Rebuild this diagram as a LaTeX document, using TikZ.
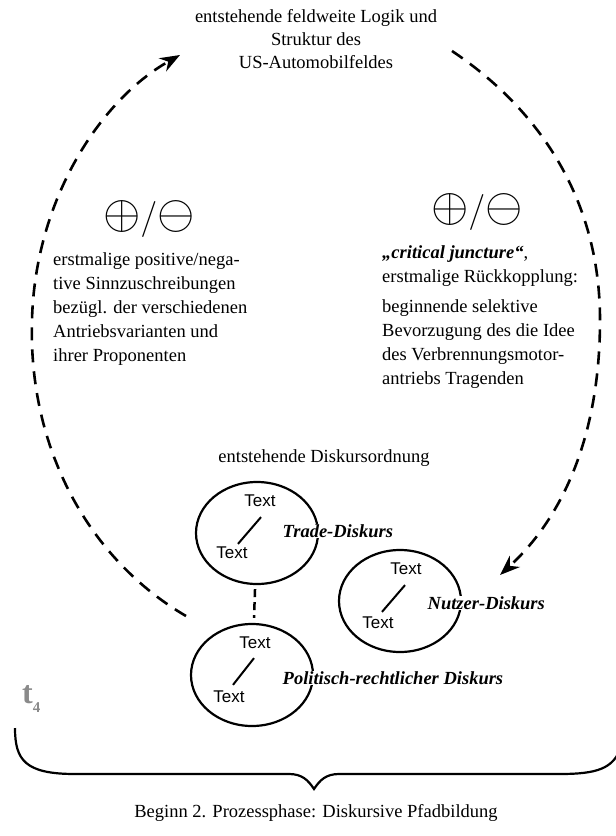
\RequirePackage{fix-cm}
\documentclass[tikz,border=0pt]{standalone}
\usepackage{fontspec}
\setmainfont{Liberation Serif}
\newfontfamily\labelsans{Liberation Sans}
\usetikzlibrary{arrows.meta,shapes.geometric}
\definecolor{tgray}{HTML}{8A8A8A}
\newcommand{\plusminus}{{\fontsize{48}{48}\selectfont$\oplus$}%
  {\fontsize{36}{36}\selectfont$/$}%
  {\fontsize{48}{48}\selectfont$\ominus$}}
\begin{document}
\begin{tikzpicture}[x=1pt,y=-1pt,
  body/.style={font=\fontsize{18.5}{24}\selectfont, inner sep=0pt},
  flow/.style={line width=2.6pt, dash pattern=on 13pt off 9pt,
    -{Stealth[length=20pt,width=15pt]}},
  disc/.style={ellipse, draw, line width=2.2pt, minimum width=122pt,
    minimum height=102pt, inner sep=0pt},
  txt/.style={font=\labelsans\fontsize{17}{17}\selectfont, inner sep=0pt},
  link/.style={line width=2pt},
  disclabel/.style={font=\fontsize{18.5}{22}\selectfont\bfseries\itshape,
    inner sep=0.5pt, anchor=west, fill=white},
  ops/.style={inner sep=0pt},
  braceline/.style={line width=2.2pt},
]
\useasboundingbox (0,0) rectangle (616,836);

% heading
\node[body, font=\fontsize{18.5}{23}\selectfont, align=center, anchor=north]
  (top) at (316,9) {entstehende feldweite Logik und\\Struktur des\\US-Automobilfeldes};

% left column
\node[ops] (opsL) at (149,219) {\plusminus};
\node[body, align=left, anchor=north west] (leftText) at (53,252)
  {erstmalige positive/nega-\\tive Sinnzuschreibungen\\bezügl. der verschiedenen\\Antriebsvarianten und\\ihrer Proponenten};

% right column
\node[ops] (opsR) at (477,212) {\plusminus};
\node[body, align=left, anchor=north west] (rightText) at (382,245)
  {\textbf{\textit{„critical juncture“}},\\erstmalige Rückkopplung:\\[6pt]beginnende selektive\\Bevorzugung des die Idee\\des Verbrennungsmotor-\\antriebs Tragenden};

% discourse order
\node[body, anchor=base] (order) at (324,462) {entstehende Diskursordnung};

\node[disc] (trade) at (257,533) {};
\node[disc] (nutzer) at (400,601) {};
\node[disc] (politik) at (252,675) {};

\node[txt] (tradeA) at (260,501) {Text};
\node[txt] (tradeB) at (232,553) {Text};
\draw[link] ([shift={(1,10)}]tradeA.south) -- ([shift={(6,-3)}]tradeB.north);
\node[disclabel] (tradeL) at (282,531) {Trade-Diskurs};

\node[txt] (nutzerA) at (406,569) {Text};
\node[txt] (nutzerB) at (378,623) {Text};
\draw[link] ([shift={(-1,10)}]nutzerA.south) -- ([shift={(4,-5)}]nutzerB.north);
\node[disclabel] (nutzerL) at (427,603) {Nutzer-Diskurs};

\node[txt] (politikA) at (255,643) {Text};
\node[txt] (politikB) at (229,697) {Text};
\draw[link] ([shift={(-1,9)}]politikA.south) -- ([shift={(4,-6)}]politikB.north);
\node[disclabel] (politikL) at (282,678) {Politisch-rechtlicher Diskurs};

\draw[line width=2.5pt, dash pattern=on 8pt off 5pt, shorten <=4pt, shorten >=5pt]
  (trade) -- (politik);

% feedback loop
\coordinate (lStart) at (186,616);
\coordinate (lEnd) at (180,55);
\draw[flow] (lStart) .. controls (90,560) and (28,450) .. (32,320)
  .. controls (35,200) and (100,100) .. (lEnd);
\coordinate (rStart) at (452,51);
\coordinate (rEnd) at (500,575);
\draw[flow] (rStart) .. controls (540,110) and (600,200) .. (600,320)
  .. controls (600,440) and (560,520) .. (rEnd);

% time mark
\node[font=\fontsize{32}{32}\selectfont\bfseries, text=tgray, anchor=base west,
  inner sep=0pt] (tfour) at (22,703)
  {t\raisebox{-9pt}{\fontsize{15}{15}\selectfont 4}};

% brace
\draw[braceline] (15,728) .. controls (15,760) and (25,774) .. (75,774)
  -- (289,774) .. controls (302,774) and (308,780) .. (314,789)
  .. controls (320,780) and (326,774) .. (339,774)
  -- (560,774) .. controls (598,774) and (612,768) .. (620,750);

\node[body, anchor=base] (caption) at (316,817)
  {Beginn 2. Prozessphase: Diskursive Pfadbildung};
\end{tikzpicture}
\end{document}
